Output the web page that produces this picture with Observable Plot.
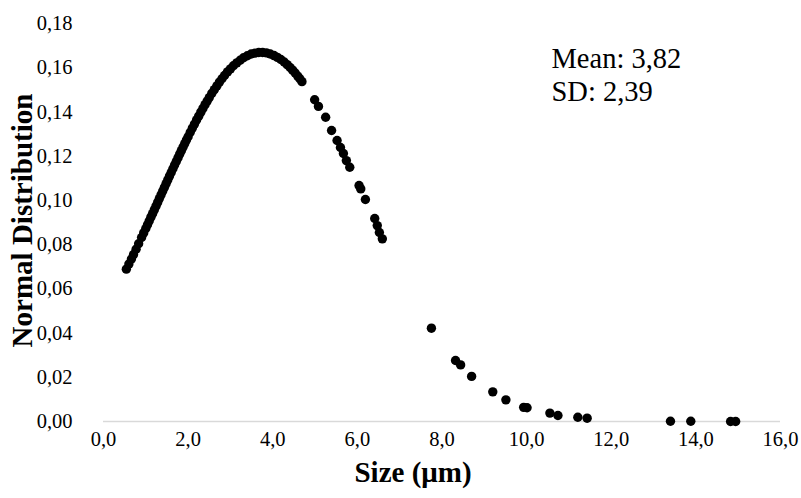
<!DOCTYPE html>
<html><head><meta charset="utf-8">
<script src="https://cdn.jsdelivr.net/npm/d3@7"></script>
<script src="https://cdn.jsdelivr.net/npm/@observablehq/plot@0.6"></script>
<style>html,body{margin:0;padding:0;background:#fff} svg{display:block}</style>
</head><body><div id="chart"></div>
<script>
const xTicks = [0, 2, 4, 6, 8, 10, 12, 14, 16];
const yTicks = [0, 0.02, 0.04, 0.06, 0.08, 0.10, 0.12, 0.14, 0.16, 0.18];
const xTitle = "Size (μm)";
const yTitle = "Normal Distribution";
const statLines = ["Mean: 3,82", "SD: 2,39"];

const sizeUm = [0.54,0.60,0.66,0.71,0.77,0.83,0.90,0.95,1.00,1.04,1.08,1.12,1.16,1.20,1.24,1.28,1.32,1.36,1.40,1.44,1.48,1.52,1.56,1.60,1.64,1.68,1.72,1.76,1.80,1.84,1.88,1.92,1.96,2.00,2.05,2.10,2.15,2.20,2.25,2.30,2.35,2.40,2.45,2.50,2.56,2.62,2.68,2.74,2.80,2.86,2.93,3.00,3.07,3.15,3.23,3.31,3.40,3.49,3.58,3.67,3.76,3.85,3.94,4.03,4.11,4.19,4.27,4.34,4.41,4.47,4.53,4.59,4.64,4.69,
  4.99,5.08,5.25,5.39,5.52,5.60,5.67,5.74,5.82,6.04,6.08,6.19,6.41,6.47,6.52,6.59,7.75,8.32,8.44,8.70,9.20,9.51,9.93,10.01,10.55,10.74,11.21,11.43,13.40,13.88,14.82,14.94];
const normDist = [0.0689,0.0712,0.0735,0.0755,0.0779,0.0804,0.0832,0.0853,0.0873,0.0890,0.0907,0.0924,0.0940,0.0957,0.0974,0.0991,0.1008,0.1025,0.1042,0.1059,0.1076,0.1093,0.1110,0.1126,0.1143,0.1160,0.1176,0.1192,0.1209,0.1225,0.1241,0.1257,0.1273,0.1288,0.1308,0.1327,0.1345,0.1364,0.1381,0.1399,0.1416,0.1433,0.1449,0.1465,0.1484,0.1501,0.1518,0.1535,0.1550,0.1565,0.1581,0.1595,0.1609,0.1622,0.1634,0.1645,0.1654,0.1662,0.1666,0.1669,0.1669,0.1667,0.1662,0.1655,0.1647,0.1637,0.1626,0.1614,0.1601,0.1589,0.1576,0.1562,0.1550,0.1537,
  0.1455,0.1425,0.1376,0.1316,0.1271,0.1239,0.1212,0.1180,0.1150,0.1067,0.1052,0.1004,0.0918,0.0886,0.0855,0.0826,0.0422,0.0276,0.0256,0.0204,0.0134,0.0098,0.0064,0.0062,0.0038,0.0027,0.0019,0.0015,0.0001,0.0001,0.0000,0.0000];

const data = sizeUm.map((x, i) => ({x, y: normDist[i]}));
const fmt1 = d => d.toFixed(1).replace(".", ",");
const fmt2 = d => d.toFixed(2).replace(".", ",");
const font = "'Liberation Serif', 'Times New Roman', serif";

const chart = Plot.plot({
  width: 801, height: 498,
  marginLeft: 103, marginRight: 21, marginTop: 23, marginBottom: 77,
  style: {fontFamily: font, background: "#fff", color: "#000", overflow: "visible"},
  x: {domain: [0, 16]},
  y: {domain: [0, 0.18]},
  marks: [
    Plot.ruleY([0], {stroke: "#d9d9d9", strokeWidth: 1.3}),
    Plot.axisX(xTicks, {tickSize: 0, tickPadding: 10, tickFormat: fmt1, fontSize: 20.5, label: null}),
    Plot.axisY(yTicks, {tickSize: 0, tickPadding: 31, tickFormat: fmt2, fontSize: 20.5, label: null}),
    Plot.dot(data, {x: "x", y: "y", r: 4.7, fill: "#000", stroke: null}),
    Plot.text([xTitle], {text: d => d, frameAnchor: "bottom", dx: -29, dy: 60, fontSize: 29, fontWeight: "bold"}),
    Plot.text([yTitle], {text: d => d, frameAnchor: "left", textAnchor: "middle", rotate: -90, dx: -81, dy: -2, fontSize: 29, fontWeight: "bold"}),
    Plot.text([statLines.join("\n")], {text: d => d, frameAnchor: "top-left", dx: 448, dy: 21, textAnchor: "start", lineAnchor: "top", lineHeight: 1.15, fontSize: 28.5})
  ]
});
document.getElementById("chart").appendChild(chart);
</script>
</body></html>
